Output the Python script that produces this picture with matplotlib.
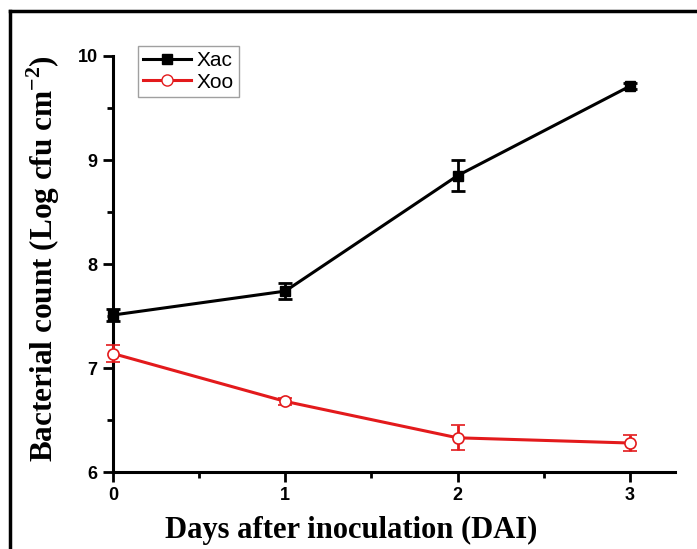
import matplotlib.pyplot as plt
from matplotlib.lines import Line2D
from matplotlib.ticker import MultipleLocator

# -----------------------------------------------------------------------------
# Data
# -----------------------------------------------------------------------------

days = [0, 1, 2, 3]
xac_mean = [7.51, 7.74, 8.85, 9.71]
xac_err = [0.06, 0.08, 0.15, 0.03]
xoo_mean = [7.14, 6.68, 6.33, 6.28]
xoo_err = [0.08, 0.03, 0.12, 0.08]

RED = '#e31a1c'

plt.rcParams['mathtext.fontset'] = 'custom'
plt.rcParams['mathtext.rm'] = 'Liberation Serif:bold'
plt.rcParams['mathtext.bf'] = 'Liberation Serif:bold'

fig = plt.figure(figsize=(6.97, 5.49), dpi=100)
ax = fig.add_axes([0.162, 0.140, 0.806, 0.758])

ax.errorbar(days, xac_mean, yerr=xac_err, color='black', lw=2.2,
            marker='s', ms=7, mfc='black', mec='black',
            ecolor='black', elinewidth=2, capsize=5, capthick=2,
            label='Xac', clip_on=False, zorder=3)
ax.errorbar(days, xoo_mean, yerr=xoo_err, color=RED, lw=2.2,
            marker='o', ms=8, mfc='white', mec=RED, mew=1.2,
            ecolor=RED, elinewidth=2, capsize=5, capthick=2,
            label='Xoo', clip_on=False, zorder=3)

ax.set_xlim(0, 3.26)
ax.set_ylim(6, 10)
ax.xaxis.set_major_locator(MultipleLocator(1))
ax.xaxis.set_minor_locator(MultipleLocator(0.5))
ax.yaxis.set_major_locator(MultipleLocator(1))
ax.yaxis.set_minor_locator(MultipleLocator(0.5))

for side in ['top', 'right']:
    ax.spines[side].set_visible(False)
for side in ['left', 'bottom']:
    ax.spines[side].set_linewidth(2.2)

ax.tick_params(which='major', direction='out', length=7, width=2, pad=4)
ax.tick_params(which='minor', direction='out', length=4, width=2)
for lab in ax.get_xticklabels() + ax.get_yticklabels():
    lab.set_fontfamily('Liberation Sans')
    lab.set_fontweight('bold')
    lab.set_fontsize(13)

ax.set_xlabel('Days after inoculation (DAI)', fontfamily='Liberation Serif',
              fontweight='bold', fontsize=22)
ax.xaxis.set_label_coords((351 - 113) / 562, -0.106)
ax.set_ylabel(r'Bacterial count (Log cfu cm$^{\mathbf{-2}}$)', fontfamily='Liberation Serif',
              fontweight='bold', fontsize=22.5)
ax.yaxis.set_label_coords(-0.09, 0.514)

handles = [Line2D([], [], color='black', lw=2.2, marker='s', ms=7),
           Line2D([], [], color=RED, lw=2.2, marker='o', ms=8, mfc='white', mec=RED)]
leg = ax.legend(handles, ['Xac', 'Xoo'], loc='upper left',
                bbox_to_anchor=(0.044, 1.024), borderaxespad=0,
                frameon=True, fancybox=False,
                edgecolor='#888888', handlelength=2.3, handletextpad=0.3,
                borderpad=0.25, labelspacing=0.12,
                prop={'family': 'Liberation Sans', 'size': 15})
leg.get_frame().set_linewidth(1)

# outer frame (top and left edges visible)
fig.add_artist(Line2D([10 / 697, 1], [1 - 11 / 549, 1 - 11 / 549],
                      color='black', lw=2.5, transform=fig.transFigure))
fig.add_artist(Line2D([10 / 697, 10 / 697], [0, 1 - 11 / 549],
                      color='black', lw=2.5, transform=fig.transFigure))

fig.savefig('out.png', dpi=100)
